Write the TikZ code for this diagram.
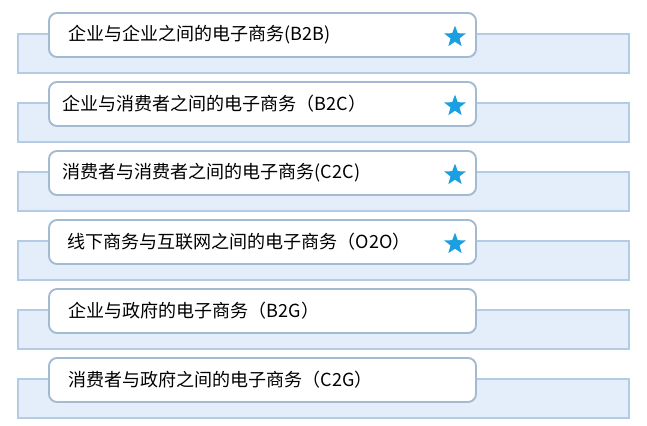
\documentclass[tikz,border=0pt]{standalone}
\usepackage{fontspec}
\setmainfont{Noto Sans CJK SC}
\usetikzlibrary{shapes.geometric}

\definecolor{barfill}{HTML}{E4EEFA}
\definecolor{barline}{HTML}{B3CBE5}
\definecolor{boxline}{HTML}{A2BAD2}
\definecolor{starblue}{HTML}{1A9FE0}

\tikzset{
    rowbar/.style={draw=barline, fill=barfill, line width=1.2pt,
        minimum width=18.33cm, minimum height=1.17cm, inner sep=0pt},
    itembox/.style={draw=boxline, fill=white, line width=1.6pt, rounded corners=0.24cm,
        minimum width=12.81cm, minimum height=1.32cm, inner sep=0pt},
    itemtext/.style={anchor=west, inner sep=0pt, font=\fontsize{15.4}{18}\selectfont},
    hotstar/.style={star, star points=5, star point ratio=2.4, fill=starblue,
        minimum size=0.68cm, inner sep=0pt}
}

\begin{document}
\begin{tikzpicture}[x=0.03cm, y=-0.03cm]
            \def\gap{69}
            \useasboundingbox (0,0) rectangle (647,426);

            \node[rowbar] (bar1) at (323.5, 0*\gap + 53.5) {};
            \node[rowbar] (bar2) at (323.5, 1*\gap + 53.5) {};
            \node[rowbar] (bar3) at (323.5, 2*\gap + 53.5) {};
            \node[rowbar] (bar4) at (323.5, 3*\gap + 53.5) {};
            \node[rowbar] (bar5) at (323.5, 4*\gap + 53.5) {};
            \node[rowbar] (bar6) at (323.5, 5*\gap + 53.5) {};

            \node[itembox] (box1) at (262.5, 0*\gap + 35) {};
            \node[itembox] (box2) at (262.5, 1*\gap + 35) {};
            \node[itembox] (box3) at (262.5, 2*\gap + 35) {};
            \node[itembox] (box4) at (262.5, 3*\gap + 35) {};
            \node[itembox] (box5) at (262.5, 4*\gap + 35) {};
            \node[itembox] (box6) at (262.5, 5*\gap + 35) {};

            \node[itemtext] (text1) at ([xshift=0.6cm]box1.west) {企业与企业之间的电子商务(B2B)};
            \node[itemtext] (text2) at ([xshift=0.42cm]box2.west) {企业与消费者之间的电子商务（B2C）};
            \node[itemtext] (text3) at ([xshift=0.42cm]box3.west) {消费者与消费者之间的电子商务(C2C)};
            \node[itemtext] (text4) at ([xshift=0.57cm]box4.west) {线下商务与互联网之间的电子商务（O2O）};
            \node[itemtext] (text5) at ([xshift=0.6cm]box5.west) {企业与政府的电子商务（B2G）};
            \node[itemtext] (text6) at ([xshift=0.6cm]box6.west) {消费者与政府之间的电子商务（C2G）};

            \node[hotstar] (star1) at (455, 0*\gap + 37) {};
            \node[hotstar] (star2) at (455, 1*\gap + 37) {};
            \node[hotstar] (star3) at (455, 2*\gap + 37) {};
            \node[hotstar] (star4) at (455, 3*\gap + 37) {};
        \end{tikzpicture}
\end{document}
